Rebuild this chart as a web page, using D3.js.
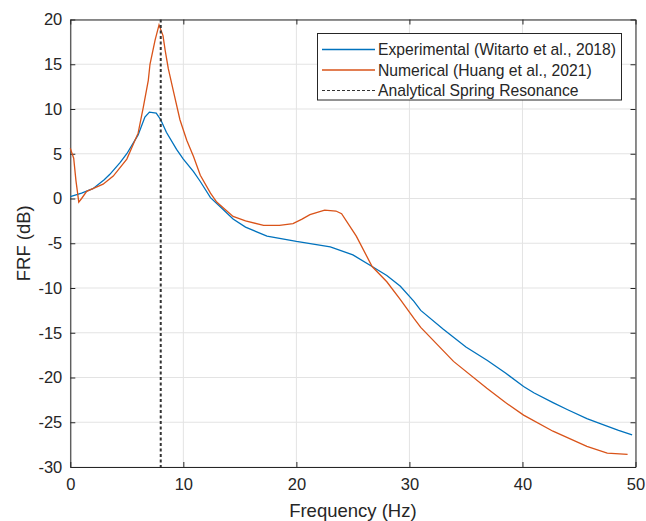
<!DOCTYPE html>
<html>
<head>
<meta charset="utf-8">
<script src="https://cdn.jsdelivr.net/npm/d3@7"></script>
<style>
  body { margin: 0; background: #fff; }
  text { font-family: "Liberation Sans", Arial, sans-serif; fill: #262626; }
</style>
</head>
<body>
<svg id="chart" width="646" height="521"></svg>
<script>
// experimental curve (Witarto et al., 2018)
var expFreq = [0,1,2,3,3.5,4.4,5,6,6.6,7,7.6,8,8.5,9.4,10,10.9,11.5,12.4,13.5,14.4,15.5,17.4,20,23,25,26.7,28,29.2,30.4,31,33,35,36.9,38.5,40.1,41,42.7,44,45.7,47,48.5,49.7]
var expFrf  = [0.2,0.6,1.1,2.1,2.7,4.0,5.0,7.1,9.1,9.65,9.55,8.8,7.4,5.5,4.4,3.0,1.9,0.1,-1.2,-2.3,-3.2,-4.2,-4.8,-5.4,-6.3,-7.6,-8.6,-9.8,-11.5,-12.5,-14.6,-16.6,-18.1,-19.5,-21.0,-21.7,-22.8,-23.6,-24.6,-25.2,-25.9,-26.4]

// numerical curve (Huang et al., 2021)
var numFreq = [0,0.3,0.5,0.75,1.0,1.45,2.0,2.9,3.8,5.0,6.0,6.46,6.9,7.05,7.5,7.85,8.2,8.4,8.67,9.1,9.7,10.3,10.9,11.5,12.4,12.95,14.4,15.5,17.1,18.5,19.7,20.5,21.2,22.5,23.5,24,25.3,26.7,28,29.2,30.4,31,33.9,36.85,38.5,40.1,42.7,45.7,47.5,49.3]
var numFrf  = [5.6,4.5,2.0,-0.4,0.0,0.8,1.1,1.6,2.5,4.4,7.3,10.2,13.2,15.0,17.7,19.4,18.2,16.5,14.5,12.1,8.8,6.5,4.7,2.6,0.6,-0.4,-2.0,-2.5,-3.0,-3.0,-2.8,-2.3,-1.8,-1.3,-1.4,-1.7,-4.2,-7.6,-9.3,-11.3,-13.4,-14.4,-18.2,-21.2,-22.8,-24.2,-26.0,-27.7,-28.45,-28.6]

var springFreq = 8

var xTicks = [0,10,20,30,40,50]
var yTicks = [-30,-25,-20,-15,-10,-5,0,5,10,15,20]
var legendLabels = ["Experimental (Witarto et al., 2018)", "Numerical (Huang et al., 2021)", "Analytical Spring Resonance"]

var canvas = d3.select("#chart")
var margin = {top:19.5, bottom:54, left:70.3, right:10.5}
var width = 646 - margin.left - margin.right
var height = 521 - margin.top - margin.bottom

var xScale = d3.scaleLinear().domain([0, 50]).range([margin.left, margin.left + width])
var yScale = d3.scaleLinear().domain([-30, 20]).range([margin.top + height, margin.top])

// grid
var grid = canvas.append("g").attr("id", "grid")
grid.selectAll(".vgrid").data(xTicks).enter()
    .append("line")
    .attr("x1", function(d){ return xScale(d) })
    .attr("x2", function(d){ return xScale(d) })
    .attr("y1", margin.top)
    .attr("y2", margin.top + height)
    .attr("stroke", "#e3e3e3")
    .attr("stroke-width", 1)
grid.selectAll(".hgrid").data(yTicks).enter()
    .append("line")
    .attr("x1", margin.left)
    .attr("x2", margin.left + width)
    .attr("y1", function(d){ return yScale(d) })
    .attr("y2", function(d){ return yScale(d) })
    .attr("stroke", "#e3e3e3")
    .attr("stroke-width", 1)

// axes (ticks inside, box on), plain hyphen for negatives
var plain = function(d){ return String(d) }
var xAxis = d3.axisBottom(xScale).tickValues(xTicks).tickFormat(plain).tickSizeInner(-5).tickSizeOuter(0).tickPadding(11)
var yAxis = d3.axisLeft(yScale).tickValues(yTicks).tickFormat(plain).tickSizeInner(-5).tickSizeOuter(0).tickPadding(8)

canvas.append("g")
      .attr("transform", "translate(0," + (margin.top + height) + ")")
      .call(xAxis)
canvas.append("g")
      .attr("transform", "translate(" + margin.left + ",0)")
      .call(yAxis)
canvas.append("g")
      .attr("transform", "translate(0," + margin.top + ")")
      .call(d3.axisTop(xScale).tickValues(xTicks).tickSizeInner(-5).tickSizeOuter(0).tickFormat(""))
canvas.append("g")
      .attr("transform", "translate(" + (margin.left + width) + ",0)")
      .call(d3.axisRight(yScale).tickValues(yTicks).tickSizeInner(-5).tickSizeOuter(0).tickFormat(""))

canvas.selectAll(".domain").attr("stroke", "#262626").attr("stroke-width", 1)
canvas.selectAll(".tick line").attr("stroke", "#262626")
canvas.selectAll(".tick text").attr("font-size", "16.5px").style("font-family", "'Liberation Sans', Arial, sans-serif").attr("fill", "#262626")

// curves
var line = d3.line()
             .x(function(d){ return xScale(d[0]) })
             .y(function(d){ return yScale(d[1]) })

var expData = expFreq.map(function(f, i){ return [f, expFrf[i]] })
var numData = numFreq.map(function(f, i){ return [f, numFrf[i]] })

canvas.append("path")
      .datum(expData)
      .attr("d", line)
      .attr("fill", "none")
      .attr("stroke", "#0072BD")
      .attr("stroke-width", 1.3)

canvas.append("path")
      .datum(numData)
      .attr("d", line)
      .attr("fill", "none")
      .attr("stroke", "#D95319")
      .attr("stroke-width", 1.3)

canvas.append("line")
      .attr("x1", xScale(springFreq))
      .attr("x2", xScale(springFreq))
      .attr("y1", yScale(20))
      .attr("y2", yScale(-30))
      .attr("stroke", "#333")
      .attr("stroke-width", 2)
      .attr("stroke-dasharray", "3,2.5")

// axis labels
canvas.append("text")
      .attr("x", xScale(25))
      .attr("y", 517)
      .attr("text-anchor", "middle")
      .attr("font-size", "18.5px")
      .text("Frequency (Hz)")

canvas.append("text")
      .attr("transform", "translate(30," + yScale(-5) + ") rotate(-90)")
      .attr("text-anchor", "middle")
      .attr("font-size", "18.5px")
      .text("FRF (dB)")

// legend
var legend = canvas.append("g").attr("id", "legend")
legend.append("rect")
      .attr("x", 317.5)
      .attr("y", 33.5)
      .attr("width", 304)
      .attr("height", 66.5)
      .attr("fill", "#fff")
      .attr("stroke", "#262626")
      .attr("stroke-width", 1)

var legendColors = ["#0072BD", "#D95319", "#333"]
var legendDash = [null, null, "3,2"]

legend.selectAll(".legline").data(legendLabels).enter()
      .append("line")
      .attr("x1", 322)
      .attr("x2", 375)
      .attr("y1", function(d, index){ return 49.5 + index * 20.5 })
      .attr("y2", function(d, index){ return 49.5 + index * 20.5 })
      .attr("stroke", function(d, index){ return legendColors[index] })
      .attr("stroke-width", function(d, index){ return index == 2 ? 1 : 1.3 })
      .attr("stroke-dasharray", function(d, index){ return legendDash[index] })

legend.selectAll(".legtext").data(legendLabels).enter()
      .append("text")
      .attr("x", 378)
      .attr("y", function(d, index){ return 55 + index * 20.5 })
      .attr("font-size", "15.7px")
      .text(function(d){ return d })
</script>
</body>
</html>
